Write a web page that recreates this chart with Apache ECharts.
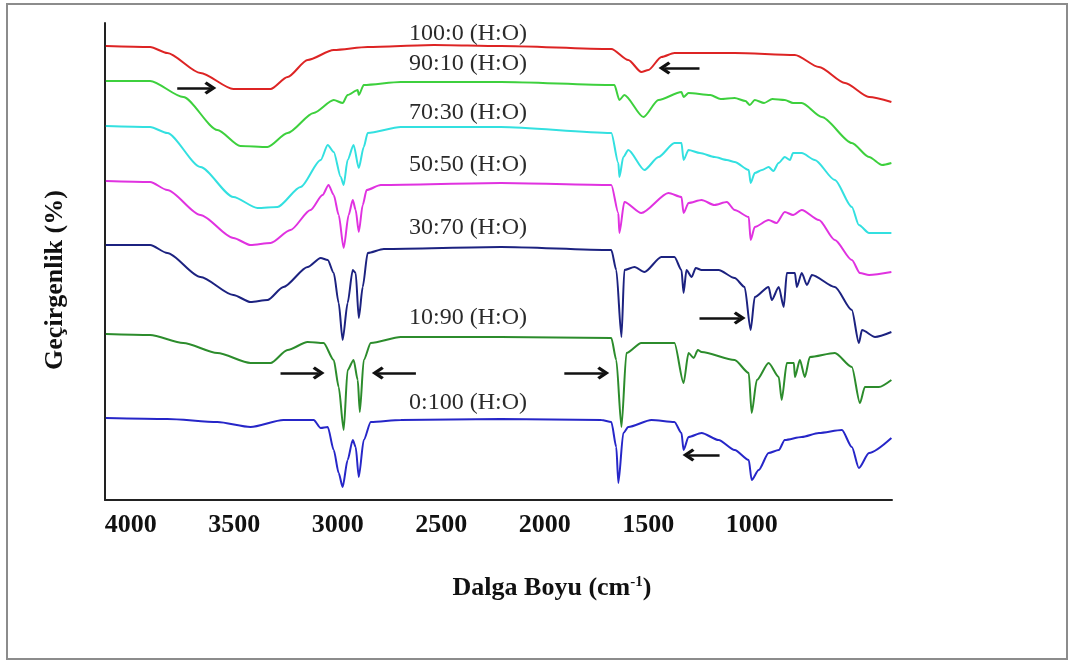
<!DOCTYPE html>
<html><head><meta charset="utf-8">
<script src="https://cdn.jsdelivr.net/npm/echarts@6/dist/echarts.min.js"></script>
<style>html,body{margin:0;padding:0;background:#fff}#c{width:1073px;height:664px}</style>
</head><body><div id="c"></div><script>
// x tick labels (wavenumber, cm-1)
const xTickLabels = [4000, 3500, 3000, 2500, 2000, 1500, 1000];
const seriesNames = ['100:0 (H:O)', '90:10 (H:O)', '70:30 (H:O)', '50:50 (H:O)', '30:70 (H:O)', '10:90 (H:O)', '0:100 (H:O)'];
const seriesColors = ['#dd2424', '#3dd03d', '#33e0e0', '#e032e0', '#1c2280', '#2c8c2c', '#2626c8'];

// spectra: [wavenumber, offset transmittance (arb.)]
const spec100_0 = [[4120,90.8],[3906,90.6],[3823,89.4],[3663,85.4],[3504,82.2],[3324,82.2],[3242,84.6],[3145,88.0],[3019,90.0],[2855,90.6],[2535,91.0],[2211,90.8],[1678,90.2],[1596,88.0],[1533,85.6],[1499,86.0],[1436,88.6],[1373,89.4],[1082,89.4],[791,89.0],[675,86.6],[549,83.4],[433,80.6],[325,79.6]];
const spec90_10 = [[4120,83.8],[3906,83.8],[3746,80.6],[3581,74.0],[3470,70.8],[3339,70.6],[3242,73.4],[3116,77.4],[3019,80.0],[2976,79.4],[2952,81.0],[2903,82.0],[2898,81.0],[2874,83.0],[2695,83.6],[2211,83.6],[1663,83.0],[1639,80.0],[1615,81.0],[1523,76.6],[1450,80.0],[1339,81.6],[1329,80.6],[1305,81.4],[1200,81.0],[1150,80.2],[1082,80.4],[1030,79.8],[1009,79.0],[985,80.0],[940,79.4],[900,80.2],[840,80.0],[800,79.4],[758,79.4],[661,76.6],[516,71.4],[433,68.6],[370,67.0],[325,67.4]];
const spec70_30 = [[4120,74.8],[3906,74.6],[3823,73.4],[3663,66.6],[3504,60.6],[3387,58.4],[3291,58.6],[3179,62.6],[3082,68.0],[3048,71.0],[3019,69.6],[2985,64.6],[2971,63.0],[2952,68.0],[2923,71.0],[2898,66.4],[2874,70.6],[2855,73.4],[2695,74.6],[2211,74.6],[1678,73.4],[1644,67.4],[1639,64.6],[1620,68.6],[1596,70.0],[1518,66.0],[1450,68.6],[1373,71.4],[1339,71.4],[1329,68.0],[1305,70.0],[1250,69.4],[1179,68.6],[1120,68.0],[1082,67.6],[1014,66.0],[1005,63.4],[985,65.4],[950,66.0],[918,66.6],[895,65.8],[870,67.4],[840,68.6],[815,68.0],[800,69.4],[758,69.4],[695,68.0],[598,64.0],[516,58.6],[482,55.0],[433,53.4],[325,53.4]];
const spec50_50 = [[4120,63.8],[3906,63.6],[3823,62.0],[3663,57.0],[3504,52.4],[3421,51.0],[3324,51.4],[3228,54.0],[3131,58.0],[3073,61.0],[3044,63.0],[3019,61.0],[2995,57.0],[2971,50.4],[2947,57.0],[2927,60.0],[2913,58.0],[2898,53.6],[2879,59.0],[2860,62.0],[2792,63.0],[2211,63.4],[1678,63.0],[1644,57.4],[1639,53.4],[1615,59.6],[1533,57.4],[1402,61.4],[1339,60.6],[1329,57.4],[1305,59.4],[1242,60.0],[1180,59.0],[1120,59.6],[1082,58.0],[1014,56.6],[1005,52.0],[985,54.6],[918,56.0],[880,55.4],[840,57.6],[800,57.0],[758,58.0],[675,56.0],[598,52.0],[516,48.0],[477,45.4],[433,45.0],[325,45.6]];
const spec30_70 = [[4120,51.0],[3906,51.0],[3823,49.4],[3663,44.6],[3504,41.0],[3421,39.6],[3339,40.0],[3262,42.6],[3145,46.6],[3082,48.4],[3048,48.0],[3019,45.4],[2995,39.4],[2976,32.0],[2952,39.4],[2927,46.0],[2913,45.4],[2898,36.4],[2879,42.6],[2855,49.4],[2777,50.2],[2211,50.6],[1678,50.0],[1654,46.0],[1629,32.6],[1615,46.0],[1566,46.6],[1518,45.6],[1436,48.6],[1373,48.6],[1339,46.0],[1329,41.4],[1315,46.0],[1290,44.6],[1270,46.4],[1242,46.0],[1160,46.0],[1082,44.4],[1034,42.6],[1005,34.0],[985,40.6],[918,42.6],[903,40.0],[869,42.6],[845,38.6],[830,45.4],[791,45.4],[782,42.6],[758,45.4],[733,43.0],[709,45.0],[598,42.6],[516,38.0],[482,31.4],[467,34.0],[404,32.6],[325,33.6]];
const spec10_90 = [[4120,33.2],[3906,33.0],[3746,31.4],[3581,29.4],[3421,27.4],[3324,27.4],[3242,30.0],[3145,31.6],[3068,31.4],[3019,28.0],[2995,22.6],[2971,14.0],[2952,26.0],[2923,28.0],[2903,24.0],[2893,17.6],[2874,28.0],[2840,31.4],[2695,32.6],[2211,32.6],[1678,32.4],[1654,28.0],[1629,14.6],[1605,29.4],[1533,31.4],[1373,31.4],[1329,23.4],[1305,29.4],[1280,28.4],[1260,30.0],[1242,29.6],[1082,28.0],[1014,25.4],[1000,17.4],[975,24.0],[918,27.4],[869,24.6],[855,20.0],[830,27.4],[796,27.4],[791,24.6],[767,28.0],[743,24.6],[719,28.6],[598,29.4],[516,26.6],[477,19.4],[453,22.6],[385,22.6],[325,24.0]];
const spec0_100 = [[4120,16.4],[3823,16.2],[3581,15.6],[3421,14.6],[3262,16.0],[3116,16.0],[3082,14.4],[3048,14.6],[3019,10.0],[2995,5.4],[2976,2.6],[2952,8.0],[2927,12.0],[2913,10.6],[2898,4.6],[2874,12.0],[2840,15.6],[2695,16.0],[2211,16.2],[1726,16.0],[1678,15.6],[1654,10.6],[1644,3.4],[1620,13.4],[1596,14.6],[1484,16.0],[1373,15.6],[1339,13.4],[1329,10.0],[1305,12.6],[1242,13.4],[1160,12.0],[1082,10.0],[1014,8.0],[1000,4.0],[966,6.0],[918,9.4],[869,10.0],[840,12.0],[758,12.6],[675,13.4],[564,14.0],[516,10.6],[482,6.4],[433,9.4],[325,12.4]];
const spectra = [spec100_0, spec90_10, spec70_30, spec50_50, spec30_70, spec10_90, spec0_100];

// label anchor points (data coords)
const labelAnchors = [[2370,93.2],[2370,87.2],[2370,77.4],[2370,67.0],[2370,54.4],[2370,36.4],[2370,19.4]];
// annotation arrows: [from, to] in data coords
const arrowsData = [
  [[3775,82.4],[3615,82.4]],
  [[1252,86.4],[1421,86.4]],
  [[1252,36.4],[1058,36.4]],
  [[3276,25.4],[3092,25.4]],
  [[2622,25.4],[2806,25.4]],
  [[1905,25.4],[1717,25.4]],
  [[1155,9.0],[1305,9.0]]
];

const chart = echarts.init(document.getElementById('c'));
const serif = '"Liberation Serif", "Times New Roman", serif';
const series = spectra.map((d, i) => ({
  type: 'line', name: seriesNames[i], data: d, showSymbol: false, symbol: 'none',
  smooth: 0.25, smoothMonotone: 'x',
  lineStyle: { color: seriesColors[i], width: 2 }, itemStyle: { color: seriesColors[i] },
  silent: true, z: 2,
  markPoint: {
    symbol: 'circle', symbolSize: 0, silent: true,
    label: { show: true, position: 'inside', formatter: seriesNames[i], color: '#2a2a2a', fontFamily: serif, fontSize: 24 },
    data: [{ coord: labelAnchors[i] }]
  }
}));
series.push({
  type: 'line', data: [], silent: true,
  markLine: {
    silent: true, animation: false,
    symbol: ['none', 'path://M5,0 L10,7 L8.2,8.6 L5,4.2 L1.8,8.6 L0,7 Z'],
    symbolSize: [13, 12],
    lineStyle: { color: '#111', width: 2.5, type: 'solid' },
    label: { show: false },
    data: arrowsData.map(a => [{ coord: a[0] }, { coord: a[1] }])
  }
});

chart.setOption({
  animation: false,
  backgroundColor: '#fff',
  grid: { left: 105, right: 181, top: 23, bottom: 164, containLabel: false },
  xAxis: {
    type: 'value', inverse: true, min: 322, max: 4124,
    axisLine: { show: true, lineStyle: { color: '#222', width: 2 } },
    axisTick: { show: false },
    splitLine: { show: false },
    axisLabel: { customValues: xTickLabels, formatter: v => String(v), color: '#111', fontFamily: serif, fontWeight: 'bold', fontSize: 26, margin: 12 }
  },
  yAxis: {
    type: 'value', min: 0, max: 95.4,
    axisLine: { show: true, lineStyle: { color: '#222', width: 2 } },
    axisTick: { show: false }, axisLabel: { show: false }, splitLine: { show: false }
  },
  graphic: [
    { type: 'rect', shape: { x: 7, y: 4, width: 1060, height: 655 }, style: { fill: 'none', stroke: '#8c8c8c', lineWidth: 2 }, silent: true },
    { type: 'text', x: 552, y: 588, style: {
        text: '{a|Dalga Boyu (cm}{s|-1}{a|)}', align: 'center', verticalAlign: 'middle',
        rich: { a: { fontFamily: serif, fontWeight: 'bold', fontSize: 26, fill: '#111' },
                s: { fontFamily: serif, fontWeight: 'bold', fontSize: 15, fill: '#111', verticalAlign: 'top', padding: [0, 0, 12, 0] } } } },
    { type: 'text', x: 55, y: 280, rotation: Math.PI / 2, style: {
        text: 'Geçirgenlik (%)', align: 'center', verticalAlign: 'middle',
        fontFamily: serif, fontWeight: 'bold', fontSize: 26, fill: '#111' } }
  ],
  series: series
});
</script></body></html>
